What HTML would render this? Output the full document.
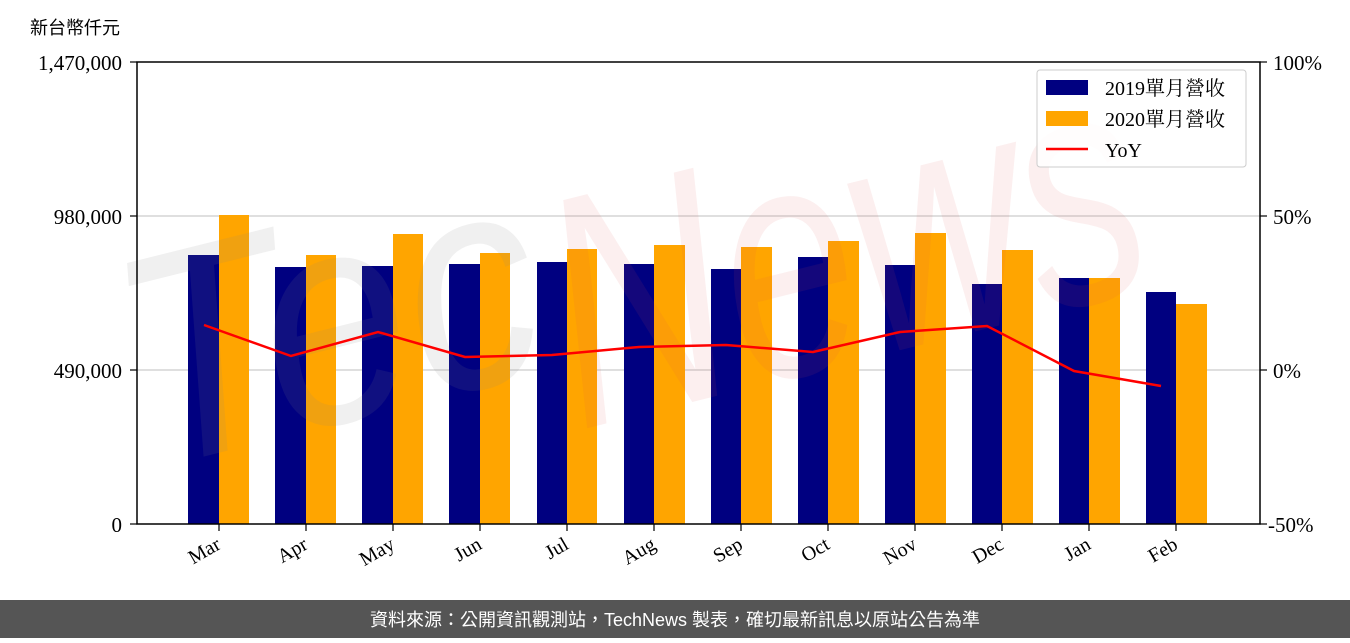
<!DOCTYPE html>
<html><head><meta charset="utf-8"><style>
body{margin:0;background:#fff;width:1350px;height:638px;overflow:hidden}
</style></head><body>
<svg width="1350" height="638" xmlns="http://www.w3.org/2000/svg" font-family="'Liberation Serif','Noto Serif CJK TC',serif">
<rect width="1350" height="638" fill="#fff"/>
<text x="30" y="34" font-size="18" font-family="'Liberation Sans','Noto Sans CJK TC',sans-serif" fill="#000">新台幣仟元</text>
<line x1="137" x2="1260" y1="216" y2="216" stroke="#ccc" stroke-width="1.2"/>
<line x1="137" x2="1260" y1="370" y2="370" stroke="#ccc" stroke-width="1.2"/>
<g>
<rect x="188" y="255" width="31" height="269" fill="#000080"/><rect x="219" y="215" width="30" height="309" fill="#ffa500"/>
<rect x="275" y="267" width="31" height="257" fill="#000080"/><rect x="306" y="255" width="30" height="269" fill="#ffa500"/>
<rect x="362" y="266" width="31" height="258" fill="#000080"/><rect x="393" y="234" width="30" height="290" fill="#ffa500"/>
<rect x="449" y="264" width="31" height="260" fill="#000080"/><rect x="480" y="253" width="30" height="271" fill="#ffa500"/>
<rect x="537" y="262" width="30" height="262" fill="#000080"/><rect x="567" y="249" width="30" height="275" fill="#ffa500"/>
<rect x="624" y="264" width="30" height="260" fill="#000080"/><rect x="654" y="245" width="31" height="279" fill="#ffa500"/>
<rect x="711" y="269" width="30" height="255" fill="#000080"/><rect x="741" y="247" width="31" height="277" fill="#ffa500"/>
<rect x="798" y="257" width="30" height="267" fill="#000080"/><rect x="828" y="241" width="31" height="283" fill="#ffa500"/>
<rect x="885" y="265" width="30" height="259" fill="#000080"/><rect x="915" y="233" width="31" height="291" fill="#ffa500"/>
<rect x="972" y="284" width="30" height="240" fill="#000080"/><rect x="1002" y="250" width="31" height="274" fill="#ffa500"/>
<rect x="1059" y="278" width="30" height="246" fill="#000080"/><rect x="1089" y="278" width="31" height="246" fill="#ffa500"/>
<rect x="1146" y="292" width="30" height="232" fill="#000080"/><rect x="1176" y="304" width="31" height="220" fill="#ffa500"/>
</g>
<g font-family="'Liberation Sans',sans-serif" font-style="italic">
<text transform="translate(150,470) rotate(-14)" font-size="300" fill="#808080" fill-opacity="0.12" textLength="420" lengthAdjust="spacingAndGlyphs">Tec</text>
<text transform="translate(580,430) rotate(-14)" font-size="330" fill="#dc5050" fill-opacity="0.09" textLength="600" lengthAdjust="spacingAndGlyphs">News</text>
</g>
<polyline fill="none" stroke="#f00" stroke-width="2.5" points="204,325 291,356 378,332 465,357 552,355 639,347 726,345 813,352 900,332 987,326 1074,371 1161,386"/>
<rect x="137" y="62" width="1123" height="462" fill="none" stroke="#000" stroke-width="1.5"/>
<g stroke="#000" stroke-width="1.2">
<line x1="130" x2="137" y1="62" y2="62"/><line x1="130" x2="137" y1="216" y2="216"/><line x1="130" x2="137" y1="370" y2="370"/><line x1="130" x2="137" y1="524" y2="524"/>
<line x1="1260" x2="1267" y1="62" y2="62"/><line x1="1260" x2="1267" y1="216" y2="216"/><line x1="1260" x2="1267" y1="370" y2="370"/><line x1="1260" x2="1267" y1="524" y2="524"/>
<line x1="219" x2="219" y1="524" y2="531"/><line x1="306" x2="306" y1="524" y2="531"/><line x1="393" x2="393" y1="524" y2="531"/><line x1="480" x2="480" y1="524" y2="531"/><line x1="567" x2="567" y1="524" y2="531"/><line x1="654" x2="654" y1="524" y2="531"/><line x1="741" x2="741" y1="524" y2="531"/><line x1="828" x2="828" y1="524" y2="531"/><line x1="915" x2="915" y1="524" y2="531"/><line x1="1002" x2="1002" y1="524" y2="531"/><line x1="1089" x2="1089" y1="524" y2="531"/><line x1="1176" x2="1176" y1="524" y2="531"/>
</g>
<g font-size="21" text-anchor="end" fill="#000">
<text x="122" y="70">1,470,000</text><text x="122" y="224">980,000</text><text x="122" y="378">490,000</text><text x="122" y="532">0</text>
</g>
<g font-size="21" text-anchor="start" fill="#000">
<text x="1273" y="70">100%</text><text x="1273" y="224">50%</text><text x="1273" y="378">0%</text><text x="1268" y="532">-50%</text>
</g>
<g font-size="20" text-anchor="end" fill="#000">
<text transform="translate(222,548) rotate(-30)">Mar</text>
<text transform="translate(309,548) rotate(-30)">Apr</text>
<text transform="translate(396,548) rotate(-30)">May</text>
<text transform="translate(483,548) rotate(-30)">Jun</text>
<text transform="translate(570,548) rotate(-30)">Jul</text>
<text transform="translate(657,548) rotate(-30)">Aug</text>
<text transform="translate(744,548) rotate(-30)">Sep</text>
<text transform="translate(831,548) rotate(-30)">Oct</text>
<text transform="translate(918,548) rotate(-30)">Nov</text>
<text transform="translate(1005,548) rotate(-30)">Dec</text>
<text transform="translate(1092,548) rotate(-30)">Jan</text>
<text transform="translate(1179,548) rotate(-30)">Feb</text>
</g>
<rect x="1037" y="70" width="209" height="97" rx="3" fill="#fff" fill-opacity="0.85" stroke="#ccc"/>
<rect x="1046" y="80" width="42" height="15" fill="#000080"/>
<rect x="1046" y="111" width="42" height="15" fill="#ffa500"/>
<line x1="1046" x2="1088" y1="149" y2="149" stroke="#f00" stroke-width="2.5"/>
<g font-size="20" fill="#000">
<text x="1105" y="95">2019單月營收</text><text x="1105" y="126">2020單月營收</text><text x="1105" y="157">YoY</text>
</g>
<rect x="0" y="600" width="1350" height="38" fill="#555"/>
<text x="675" y="626" font-size="18" text-anchor="middle" fill="#fff" font-family="'Liberation Sans','Noto Sans CJK TC',sans-serif">資料來源：公開資訊觀測站，TechNews 製表，確切最新訊息以原站公告為準</text>
</svg>
</body></html>
